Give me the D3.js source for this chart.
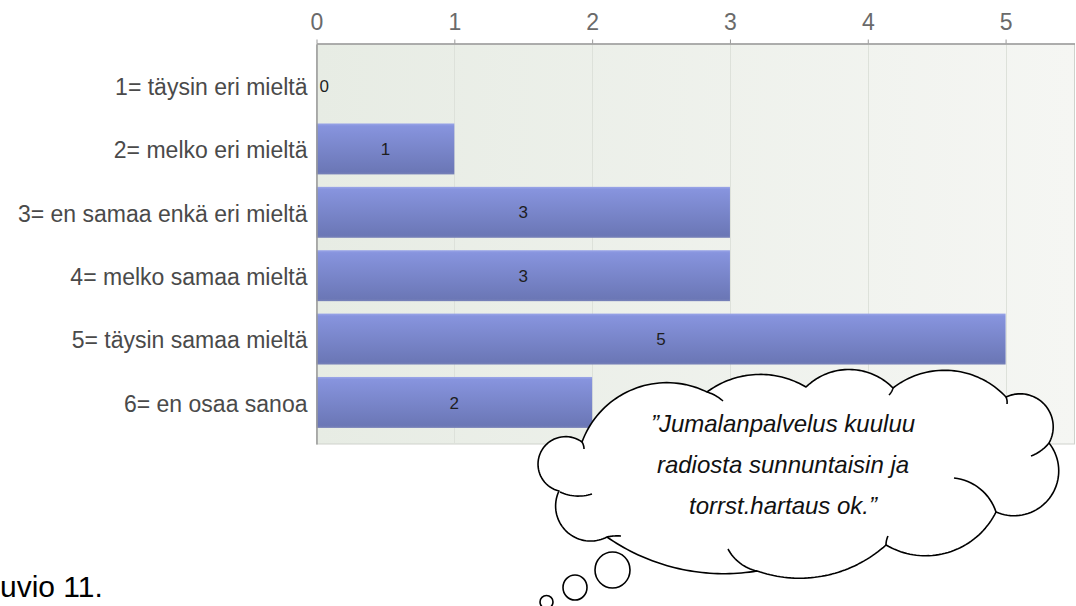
<!DOCTYPE html>
<html>
<head>
<meta charset="utf-8">
<script src="https://cdn.jsdelivr.net/npm/d3@7"></script>
<style>
  html, body { margin: 0; padding: 0; background: #ffffff; }
  svg { display: block; font-family: "Liberation Sans", Arial, sans-serif; }
</style>
</head>
<body>
<svg id="chart" width="1076" height="606"></svg>
<script>
// ---- data ----
const categories = [
  "1= täysin eri mieltä",
  "2= melko eri mieltä",
  "3= en samaa enkä eri mieltä",
  "4= melko samaa mieltä",
  "5= täysin samaa mieltä",
  "6= en osaa sanoa"
];
const values = [0, 1, 3, 3, 5, 2];
const tickValues = [0, 1, 2, 3, 4, 5];
const xMax = 5.5;
const cloudLines = [
  "\u201DJumalanpalvelus kuuluu",
  "radiosta sunnuntaisin ja",
  "torrst.hartaus ok.\u201D"
];
const caption = "uvio 11.";

// ---- layout ----
const svg = d3.select("#chart");
const plot = { left: 316.5, right: 1074.5, top: 44, bottom: 444 };

const x = d3.scaleLinear().domain([0, xMax]).range([plot.left, plot.right]);
const y = d3.scaleBand().domain(categories).range([plot.top, plot.bottom])
  .paddingInner(0.196).paddingOuter(0.254);

const defs = svg.append("defs");
const bg = defs.append("linearGradient").attr("id", "bgGrad")
  .attr("x1", "0").attr("x2", "1").attr("y1", "0").attr("y2", "0");
bg.append("stop").attr("offset", "0").attr("stop-color", "#e7ece4");
bg.append("stop").attr("offset", "1").attr("stop-color", "#f5f6f3");

const barG = defs.append("linearGradient").attr("id", "barGrad")
  .attr("x1", "0").attr("x2", "0").attr("y1", "0").attr("y2", "1");
barG.append("stop").attr("offset", "0").attr("stop-color", "#9ba6e8");
barG.append("stop").attr("offset", "0.05").attr("stop-color", "#8794de");
barG.append("stop").attr("offset", "0.95").attr("stop-color", "#6b77b6");
barG.append("stop").attr("offset", "1").attr("stop-color", "#7882b8");

// plot background
svg.append("rect")
  .attr("x", plot.left).attr("y", plot.top)
  .attr("width", plot.right - plot.left).attr("height", plot.bottom - plot.top)
  .attr("fill", "url(#bgGrad)")
  .attr("stroke", "#cfd2cc").attr("stroke-width", 1);

// gridlines
svg.append("g").selectAll("line")
  .data(tickValues.filter(d => d > 0))
  .join("line")
  .attr("x1", d => Math.round(x(d)) + 0.5).attr("x2", d => Math.round(x(d)) + 0.5)
  .attr("y1", plot.top).attr("y2", plot.bottom)
  .attr("stroke", "#dde1da").attr("stroke-width", 1);

// bars
svg.append("g").selectAll("rect")
  .data(categories.map((c, i) => ({ c, v: values[i] })))
  .join("rect")
  .attr("x", x(0))
  .attr("y", d => y(d.c))
  .attr("width", d => x(d.v) - x(0))
  .attr("height", y.bandwidth())
  .attr("fill", "url(#barGrad)");

// value labels
svg.append("g").selectAll("text")
  .data(categories.map((c, i) => ({ c, v: values[i] })))
  .join("text")
  .attr("x", d => d.v > 0 ? (x(0) + x(d.v)) / 2 : x(0) + 3)
  .attr("y", d => y(d.c) + y.bandwidth() / 2)
  .attr("dy", "0.36em")
  .attr("text-anchor", d => d.v > 0 ? "middle" : "start")
  .attr("font-size", 17)
  .attr("fill", "#1e1e1e")
  .text(d => d.v);

// top axis
const xAxis = svg.append("g")
  .attr("transform", `translate(0,${plot.top - 0.5})`)
  .call(d3.axisTop(x).tickValues(tickValues).tickSize(4).tickSizeOuter(0).tickPadding(9.5).tickFormat(d3.format("d")));
xAxis.select(".domain").attr("stroke", "#9a9a9a").attr("stroke-width", 1.5);
xAxis.selectAll(".tick line").attr("stroke", "#9a9a9a");
xAxis.selectAll(".tick text")
  .attr("font-size", 23).attr("fill", "#6a6a6a")
  .attr("font-family", "'Liberation Sans', Arial, sans-serif");

// left axis (category labels)
const yAxis = svg.append("g")
  .attr("transform", `translate(${plot.left},0)`)
  .call(d3.axisLeft(y).tickSize(0).tickSizeOuter(0).tickPadding(9));
yAxis.select(".domain").attr("stroke", "#9a9a9a").attr("stroke-width", 1.5);
yAxis.selectAll(".tick text")
  .attr("font-size", 23).attr("fill", "#4a4a4a").attr("dy", "0.4em")
  .attr("font-family", "'Liberation Sans', Arial, sans-serif");

// caption
svg.append("text")
  .attr("x", 0).attr("y", 597)
  .attr("font-size", 30).attr("fill", "#000")
  .text(caption);

// ---- thought cloud annotation ----
function arcPts(p0, p1, h, n) {
  if (h < 0) return arcPts(p1, p0, -h, n).reverse();
  n = n || 40;
  const dx = p1[0] - p0[0], dy = p1[1] - p0[1], c = Math.hypot(dx, dy);
  const nx = dy / c, ny = -dx / c;
  const r = (c * c / 4 + h * h) / (2 * h);
  const mx = (p0[0] + p1[0]) / 2, my = (p0[1] + p1[1]) / 2;
  const cx = mx - nx * (r - h), cy = my - ny * (r - h);
  const a0 = Math.atan2(p0[1] - cy, p0[0] - cx);
  let a1 = Math.atan2(p1[1] - cy, p1[0] - cx);
  while (a1 <= a0) a1 += 2 * Math.PI;
  return d3.range(n + 1).map(t => {
    const a = a0 + (a1 - a0) * t / n;
    return [cx + r * Math.cos(a), cy + r * Math.sin(a)];
  });
}

const cloudNodes = [[582, 442], [707, 392], [806, 387], [893, 388], [1006, 397],
  [1049, 443], [996, 512], [886, 545], [757, 571], [607, 537], [559, 491]];
const cloudBulge = [30, 15, 18, 22, 23, 34, 25, 18, 15, 24, 33];
const innerArcs = [
  [[582, 442], [584, 449], 0.5],
  [[707, 392], [723, 401], 1],
  [[893, 388], [889, 395], 0.5],
  [[1006, 397], [1007, 404], 0.5],
  [[1049, 443], [1031, 456], 1.5],
  [[954, 478], [996, 512], 8],
  [[886, 545], [888, 536], 0.5],
  [[728, 549], [757, 571], -4],
  [[607, 537], [621, 536], 0.5],
  [[560, 492], [592, 494], -3]
];

let outline = [];
cloudNodes.forEach((p, i) => {
  const q = cloudNodes[(i + 1) % cloudNodes.length];
  const pts = arcPts(p, q, cloudBulge[i], 40);
  outline = outline.concat(i === 0 ? pts : pts.slice(1));
});

const cloud = svg.append("g");
const line = d3.line();

const bubbles = [[612.5, 570, 17.5, 18], [575, 587.5, 12, 12.5], [546.5, 602, 6.5, 6.5]];
cloud.selectAll("ellipse").data(bubbles).join("ellipse")
  .attr("cx", d => d[0]).attr("cy", d => d[1]).attr("rx", d => d[2]).attr("ry", d => d[3])
  .attr("fill", "#fff").attr("stroke", "#000").attr("stroke-width", 1.6);

cloud.append("path")
  .attr("d", line(outline) + "Z")
  .attr("fill", "#fff").attr("stroke", "#000").attr("stroke-width", 1.6)
  .attr("stroke-linejoin", "round");

cloud.selectAll("path.inner").data(innerArcs).join("path")
  .attr("class", "inner")
  .attr("d", d => line(arcPts(d[0], d[1], d[2], 16)))
  .attr("fill", "none").attr("stroke", "#000").attr("stroke-width", 1.6);

cloud.selectAll("text").data(cloudLines).join("text")
  .attr("x", 783).attr("y", (d, i) => 432 + i * 41)
  .attr("text-anchor", "middle")
  .attr("font-size", 24).attr("font-style", "italic").attr("fill", "#111")
  .text(d => d);
</script>
</body>
</html>
